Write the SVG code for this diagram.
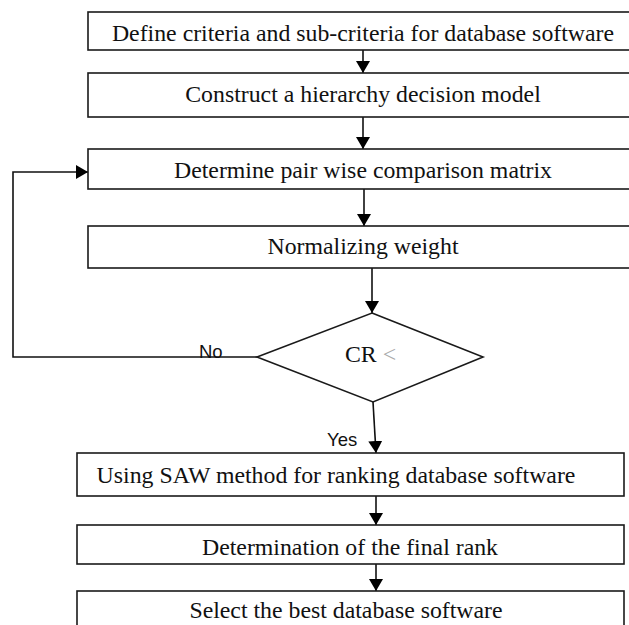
<svg xmlns="http://www.w3.org/2000/svg" width="629" height="625" viewBox="0 0 629 625">
<style>
.box{fill:#fff;stroke:#1a1a1a;stroke-width:1.6}
.t{font-family:"Liberation Serif","Times New Roman",serif;font-size:23.8px;fill:#111;text-anchor:middle}
.s{font-family:"Liberation Sans",Arial,sans-serif;font-size:18.5px;fill:#111}
.c{fill:none;stroke:#111;stroke-width:1.6}
</style>
<defs>
<marker id="ah" viewBox="0 0 12 14" refX="12" refY="7" markerWidth="12" markerHeight="14" markerUnits="userSpaceOnUse" orient="auto">
<path d="M0,0 L12,7 L0,14 z" fill="#000"/>
</marker>
</defs>
<rect width="629" height="625" fill="#fff"/>
<g id="connectors">
<line class="c" x1="363" y1="50" x2="363" y2="73" marker-end="url(#ah)"/>
<line class="c" x1="363" y1="117" x2="363" y2="149" marker-end="url(#ah)"/>
<line class="c" x1="364" y1="189" x2="364" y2="226" marker-end="url(#ah)"/>
<line class="c" x1="372" y1="268" x2="372" y2="313" marker-end="url(#ah)"/>
<polyline class="c" points="257,357 13,357 13,172 88,172" marker-end="url(#ah)"/>
<line class="c" x1="373" y1="402" x2="376" y2="453" marker-end="url(#ah)"/>
<line class="c" x1="376" y1="496" x2="376" y2="525" marker-end="url(#ah)"/>
<line class="c" x1="376" y1="564" x2="376" y2="591" marker-end="url(#ah)"/>
<text class="s" x="199" y="358">No</text>
<text class="s" x="327" y="446">Yes</text>
</g>
<g id="n1"><rect class="box" x="88" y="12" width="560" height="38"/><text class="t" x="363" y="41">Define criteria and sub-criteria for database software</text></g>
<g id="n2"><rect class="box" x="88" y="73" width="560" height="44"/><text class="t" x="363" y="102">Construct a hierarchy decision model</text></g>
<g id="n3"><rect class="box" x="88" y="149" width="560" height="40"/><text class="t" x="363" y="178">Determine pair wise comparison matrix</text></g>
<g id="n4"><rect class="box" x="88" y="226" width="560" height="42"/><text class="t" x="363" y="254">Normalizing weight</text></g>
<g id="n5"><polygon class="box" points="372,313 483,357 373,402 257,357"/><text x="345" y="362" style="font-family:'Liberation Serif','Times New Roman',serif;font-size:23.8px"><tspan fill="#111">CR</tspan><tspan fill="#aaa"> &lt;</tspan></text></g>
<g id="n6"><rect class="box" x="77" y="453" width="547" height="43"/><text class="t" x="336" y="483">Using SAW method for ranking database software</text></g>
<g id="n7"><rect class="box" x="77" y="525" width="547" height="39"/><text class="t" x="350" y="555">Determination of the final rank</text></g>
<g id="n8"><rect class="box" x="77" y="591" width="547" height="50"/><text class="t" x="346" y="618">Select the best database software</text></g>
</svg>
